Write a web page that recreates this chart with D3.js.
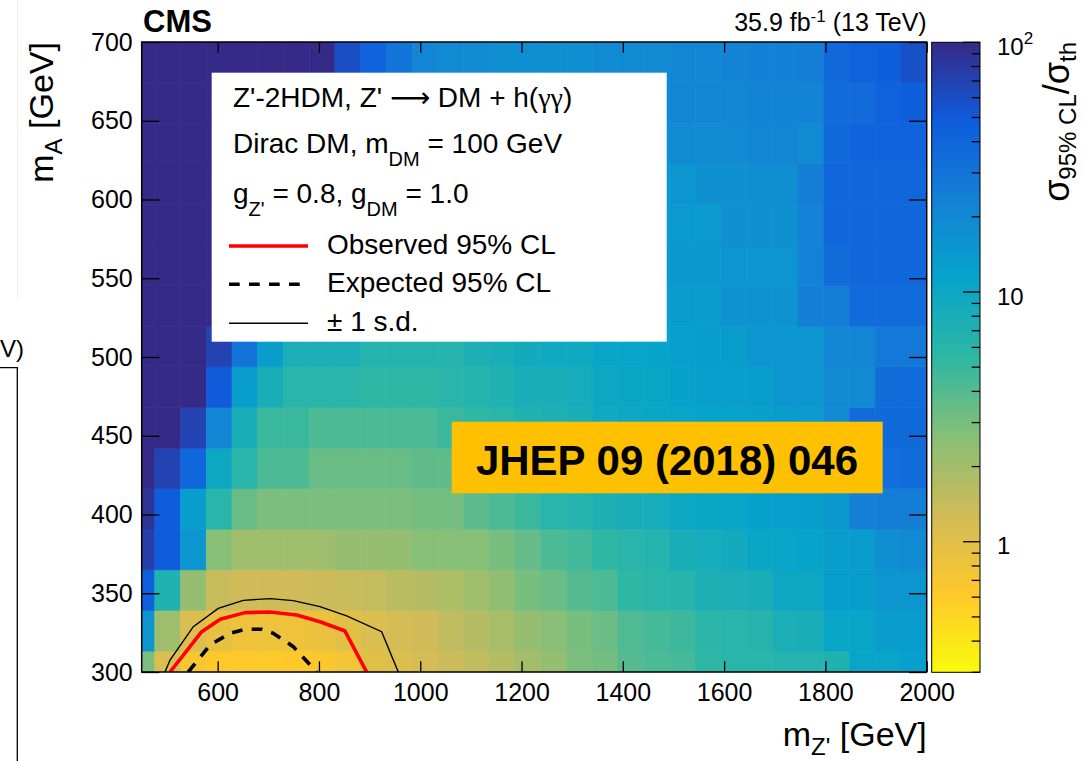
<!DOCTYPE html>
<html>
<head>
<meta charset="utf-8">
<script src="https://cdn.jsdelivr.net/npm/d3@7"></script>
<style>
  body { margin: 0; background: #fff; }
  svg { display: block; }
  text { font-family: "Liberation Sans", Arial, Helvetica, sans-serif; fill: #000; }
</style>
</head>
<body>
<svg id="chart" width="1084" height="761"></svg>
<script>
// ---- data -----------------------------------------------------------------
const mZRange = [450, 2000];            // visible m_Z' window [GeV]
const mARange = [300, 700];             // visible m_A window [GeV]
const mZBinning = [425, 2000, 31];      // low edge, high edge, number of bins
const mABinning = [287.5, 700, 16];
const ratioRange = [0.3, 100];          // colour axis: sigma_95%CL / sigma_th
const mZTicks = [600, 800, 1000, 1200, 1400, 1600, 1800, 2000];
const mATicks = [300, 350, 400, 450, 500, 550, 600, 650, 700];

// sigma_95%CL / sigma_th per (m_A, m_Z') bin; one row per m_A bin, lowest m_A first
const limitRatio = [
  [2.9, 1.1, 0.7, 0.62, 0.6, 0.6, 0.62, 0.65, 0.75, 1.0, 1.1, 1.2, 1.35, 1.5, 1.7, 2.0, 2.3, 2.9, 3.1, 4.0, 4.3, 4.5, 5.5, 6.0, 6.0, 6.5, 6.5, 7.0, 11, 11, 12.5],
  [15.5, 2.1, 1.1, 0.9, 0.8, 0.8, 0.8, 0.85, 0.98, 1.1, 1.2, 1.3, 1.5, 1.7, 1.9, 2.3, 2.6, 3.0, 3.3, 4.2, 4.5, 4.8, 5.8, 6.0, 6.3, 7.8, 8.0, 11, 11, 13.5, 13.5],
  [45, 7, 2.3, 1.4, 1.3, 1.3, 1.3, 1.35, 1.4, 1.45, 1.6, 1.7, 1.8, 2.1, 2.4, 3.0, 3.3, 4.0, 4.3, 5.5, 6.0, 6.2, 7.5, 7.8, 8.0, 10, 10, 13, 13, 15.5, 15.5],
  [75, 48, 15, 2.65, 2.1, 2.1, 2.1, 2.1, 2.3, 2.3, 2.3, 2.65, 2.65, 2.65, 3.0, 3.5, 4.3, 4.6, 5.5, 6.0, 6.5, 8.0, 8.5, 9.0, 10.5, 11, 11.5, 13, 13.5, 18, 19],
  [88, 48, 13, 6, 3.35, 2.9, 2.9, 2.9, 2.9, 2.9, 2.9, 3.06, 3.06, 3.8, 4.3, 5.0, 6.0, 6.5, 7.5, 8.0, 8.5, 10, 10.5, 11, 12, 12.5, 13, 14.5, 24, 25, 25],
  [120, 70, 40, 10, 6, 4.3, 4.3, 3.4, 3.4, 3.4, 3.4, 3.65, 3.65, 4.5, 5, 5.5, 6, 6.5, 7.5, 8, 8.5, 9.5, 10, 10.5, 11, 12, 13, 16, 22, 34, 35],
  [120, 120, 70, 21, 8, 5, 5, 4.3, 4.3, 4.3, 4.3, 4.3, 5, 5.5, 6, 7, 7.5, 8, 9.5, 10, 10.5, 11, 11.5, 11.5, 12, 13.5, 14, 20, 35, 37, 37],
  [120, 120, 120, 50, 13, 8, 6, 6, 6, 5.5, 5.5, 5.5, 6, 6.5, 7, 8, 8, 8.5, 10, 10.5, 10.5, 12, 12.5, 12.5, 13, 15, 15, 20, 20, 35, 36],
  [120, 120, 120, 70, 30, 13, 7.8, 7.8, 7.8, 6.5, 6.5, 6.5, 6.5, 7.5, 8, 9, 9.5, 9.5, 11, 11, 11.5, 12.5, 13, 13, 15, 15, 15, 21, 21, 28, 28],
  [120, 120, 120, 120, 80, 40, 22, 16, 12, 10.5, 10, 10, 10, 10, 10.5, 13, 13.5, 13.5, 13.5, 13.5, 13.5, 13.5, 13.5, 16, 16, 16, 25, 25, 36, 36, 36],
  [120, 120, 120, 120, 100, 60, 40, 28, 20, 16, 14, 13, 12, 12, 12, 12.5, 14, 14, 14, 14, 14, 14.5, 14.5, 15.5, 15.5, 15.5, 23, 35, 40, 40, 40],
  [120, 120, 120, 120, 120, 100, 70, 50, 35, 25, 18, 15, 14, 13.5, 13.5, 13.5, 14, 14, 14, 14, 14, 14, 14, 17, 17, 17, 23, 40, 40, 40, 40],
  [120, 120, 120, 120, 120, 120, 100, 80, 55, 40, 28, 20, 17, 16, 15, 15, 15, 15, 15, 15, 15, 15, 17, 17, 17.5, 18, 25, 40, 40, 40, 40],
  [120, 120, 120, 120, 120, 120, 120, 120, 60, 45, 32, 22, 19, 18, 17, 17, 17, 17, 17, 18, 18, 19, 19, 20, 21, 21, 19, 37, 42, 42, 42],
  [120, 120, 120, 120, 120, 120, 120, 120, 60, 45, 33, 24, 20, 19, 18, 18, 17.5, 17.5, 18, 18, 20, 21, 21, 21, 22, 22, 22, 36, 36, 44, 46],
  [120, 120, 120, 120, 120, 120, 120, 120, 59, 42, 31, 21, 19, 19, 18, 18, 18, 18, 19, 19, 20, 21, 21, 22, 24, 24, 25, 38, 44, 46, 58]
];

// exclusion contours, [m_Z', m_A] in GeV
const observedLimit = [[505.9, 300], [568.5, 325.6], [605.1, 333.5], [654, 337.7], [703.3, 338.1], [756, 336.2], [802, 331.9], [851.4, 326], [894.2, 300]];
const expectedLimit = [[542, 300], [584.8, 317.1], [624.3, 324.6], [654, 327.1], [686.9, 327.1], [709.8, 324.6], [749.3, 316.1], [795.5, 300]];
const expectedPlus1Sigma = [[496, 300], [505.9, 307.6], [551.9, 328.8], [601.2, 340.4], [650.6, 345.5], [703.3, 346.6], [749.3, 345.3], [802, 341.5], [854.7, 335.6], [923.8, 325.6], [956.6, 300]];

// ROOT "bird" palette (stop position, r, g, b)
const birdStops = [0.0, 0.125, 0.25, 0.375, 0.5, 0.625, 0.75, 0.875, 1.0];
const birdRed   = [0.2082, 0.0592, 0.0780, 0.0232, 0.1802, 0.5301, 0.8186, 0.9956, 0.9764];
const birdGreen = [0.1664, 0.3599, 0.5041, 0.6419, 0.7178, 0.7492, 0.7328, 0.7862, 0.9832];
const birdBlue  = [0.5293, 0.8684, 0.8385, 0.7914, 0.6425, 0.4662, 0.3444, 0.1704, 0.0539];

// ---- layout -------------------------------------------------------------------
const svg = d3.select('#chart');
const frame = { left: 141.7, right: 926.7, top: 42, bottom: 672 };
const bar = { left: 931.7, right: 980, top: 42.3, bottom: 672.3 };

const x = d3.scaleLinear().domain(mZRange).range([frame.left, frame.right]);
const y = d3.scaleLinear().domain(mARange).range([frame.bottom, frame.top]);

const birdColors = birdStops.map((s, i) =>
  d3.rgb(birdRed[i] * 255, birdGreen[i] * 255, birdBlue[i] * 255).formatHex());
const bird = d3.scaleLinear().domain(birdStops).range(birdColors).interpolate(d3.interpolateRgb);
// high ratio -> dark end of the palette
const palettePos = d3.scaleLog().domain(ratioRange).range([1, 0]).clamp(true);
const color = v => bird(palettePos(v));

const edges = ([lo, hi, n]) => d3.range(n + 1).map(i => lo + i * (hi - lo) / n);
const mZEdges = edges(mZBinning);
const mAEdges = edges(mABinning);

const defs = svg.append('defs');
defs.append('clipPath').attr('id', 'frameClip').append('rect')
  .attr('x', frame.left).attr('y', frame.top)
  .attr('width', frame.right - frame.left).attr('height', frame.bottom - frame.top);

// ---- heat map cells -------------------------------------------------------------
const cells = limitRatio.flatMap((row, i) => row.map((v, j) => ({ i, j, v })));
const plotG = svg.append('g').attr('clip-path', 'url(#frameClip)');
plotG.selectAll('rect.cell').data(cells).join('rect')
  .attr('class', 'cell')
  .attr('x', d => x(mZEdges[d.j]))
  .attr('width', d => x(mZEdges[d.j + 1]) - x(mZEdges[d.j]))
  .attr('y', d => y(mAEdges[d.i + 1]))
  .attr('height', d => y(mAEdges[d.i]) - y(mAEdges[d.i + 1]))
  .attr('fill', d => color(d.v))
  .attr('stroke', d => color(d.v))
  .attr('stroke-width', 0.6);

// ---- contours -------------------------------------------------------------
const line = d3.line().x(d => x(d[0])).y(d => y(d[1]));
plotG.append('path').datum(expectedPlus1Sigma).attr('d', line)
  .attr('fill', 'none').attr('stroke', '#000').attr('stroke-width', 1.4);
plotG.append('path').datum(expectedLimit).attr('d', line)
  .attr('fill', 'none').attr('stroke', '#000').attr('stroke-width', 3.6)
  .attr('stroke-dasharray', '10.7,9.3');
plotG.append('path').datum(observedLimit).attr('d', line)
  .attr('fill', 'none').attr('stroke', '#ff0000').attr('stroke-width', 3.6)
  .attr('stroke-linejoin', 'round');

// ---- axes -----------------------------------------------------------------
function styleAxis(g, fontSize) {
  g.select('.domain').remove();
  g.selectAll('.tick line').attr('stroke', '#000').attr('stroke-width', 1.3);
  g.selectAll('.tick text').attr('font-size', fontSize)
    .attr('font-family', '"Liberation Sans", Arial, sans-serif').attr('fill', '#000');
}
const plain = d3.format('d');
svg.append('g').attr('transform', `translate(0,${frame.bottom})`)
  .call(d3.axisBottom(x).tickValues(mZTicks).tickFormat(plain)
    .tickSizeInner(-10.7).tickSizeOuter(0).tickPadding(11))
  .call(g => styleAxis(g, 25));
svg.append('g').attr('transform', `translate(0,${frame.top})`)
  .call(d3.axisTop(x).tickValues(mZTicks).tickSizeInner(-10.7).tickSizeOuter(0).tickFormat(''))
  .call(g => styleAxis(g, 25));
svg.append('g').attr('transform', `translate(${frame.left},0)`)
  .call(d3.axisLeft(y).tickValues(mATicks).tickFormat(plain)
    .tickSizeInner(-17.7).tickSizeOuter(0).tickPadding(9))
  .call(g => styleAxis(g, 25));
svg.append('g').attr('transform', `translate(${frame.right},0)`)
  .call(d3.axisRight(y).tickValues(mATicks).tickSizeInner(-17.7).tickSizeOuter(0).tickFormat(''))
  .call(g => styleAxis(g, 25));

svg.append('rect')
  .attr('x', frame.left).attr('y', frame.top)
  .attr('width', frame.right - frame.left).attr('height', frame.bottom - frame.top)
  .attr('fill', 'none').attr('stroke', '#000').attr('stroke-width', 1.5);

// text made of plain / subscript / superscript pieces
function rich(textSel, parts, size, small, drop, rise) {
  let shift = 0;
  parts.forEach(p => {
    const target = p.sub ? drop : p.sup ? -rise : 0;
    const ts = textSel.append('tspan')
      .attr('dy', target - shift)
      .attr('font-size', (p.sub || p.sup) ? small : size)
      .text(p.t);
    if (p.family) ts.attr('font-family', p.family);
    shift = target;
  });
}

// axis titles
rich(svg.append('text').attr('x', frame.right).attr('y', 746).attr('text-anchor', 'end'),
  [{ t: 'm' }, { t: "Z'", sub: true }, { t: ' [GeV]' }], 34, 24, 9, 0);
rich(svg.append('text').attr('transform', `translate(53,${frame.top}) rotate(-90)`).attr('text-anchor', 'end'),
  [{ t: 'm' }, { t: 'A', sub: true }, { t: ' [GeV]' }], 34, 24, 9, 0);

// ---- colour bar -------------------------------------------------------------
const grad = defs.append('linearGradient').attr('id', 'birdGrad')
  .attr('x1', 0).attr('y1', 0).attr('x2', 0).attr('y2', 1);
grad.selectAll('stop').data(birdStops).join('stop')
  .attr('offset', d => d)
  .attr('stop-color', d => bird(d));
svg.append('rect')
  .attr('x', bar.left).attr('y', bar.top)
  .attr('width', bar.right - bar.left).attr('height', bar.bottom - bar.top)
  .attr('fill', 'url(#birdGrad)').attr('stroke', '#000').attr('stroke-width', 1);

const z = d3.scaleLog().domain(ratioRange).range([bar.bottom, bar.top]);
const isDecade = v => Math.abs(Math.log10(v) - Math.round(Math.log10(v))) < 1e-9;
svg.append('g').selectAll('line').data(z.ticks()).join('line')
  .attr('x1', d => bar.right - (isDecade(d) ? 17 : 8.3)).attr('x2', bar.right)
  .attr('y1', d => z(d)).attr('y2', d => z(d))
  .attr('stroke', '#000').attr('stroke-width', 1.3);
z.ticks().filter(isDecade).forEach(v => {
  const t = svg.append('text').attr('x', 997).attr('y', z(v) + 12.5).attr('font-size', 24);
  const e = Math.round(Math.log10(v));
  if (e <= 1) t.text(String(v));
  else rich(t, [{ t: '10' }, { t: String(e), sup: true }], 24, 17, 0, 11);
});
rich(svg.append('text').attr('transform', `translate(1069,${frame.top}) rotate(-90)`).attr('text-anchor', 'end'),
  [{ t: 'σ' }, { t: '95% CL', sub: true }, { t: '/σ' }, { t: 'th', sub: true }], 36, 24, 7, 0);

// ---- header ---------------------------------------------------------------
svg.append('text').attr('x', 143).attr('y', 32).attr('font-size', 31).attr('font-weight', 'bold').text('CMS');
rich(svg.append('text').attr('x', frame.right).attr('y', 31).attr('text-anchor', 'end'),
  [{ t: '35.9 fb' }, { t: '-1', sup: true }, { t: ' (13 TeV)' }], 25, 17, 0, 9);

// ---- legend -------------------------------------------------------------------
const leg = svg.append('g');
leg.append('rect').attr('x', 211.7).attr('y', 72.7).attr('width', 455).attr('height', 269).attr('fill', '#fff');
rich(leg.append('text').attr('x', 233).attr('y', 107),
  [{ t: "Z'-2HDM, Z' " }, { t: '⟶', family: '"DejaVu Sans", sans-serif' }, { t: ' DM + h(' },
   { t: 'γγ', family: '"Liberation Serif", serif' }, { t: ')' }], 28, 20, 13, 0);
rich(leg.append('text').attr('x', 233).attr('y', 153),
  [{ t: 'Dirac DM, m' }, { t: 'DM', sub: true }, { t: ' = 100 GeV' }], 28, 20, 13, 0);
rich(leg.append('text').attr('x', 233).attr('y', 203),
  [{ t: 'g' }, { t: "Z'", sub: true }, { t: ' = 0.8, g' }, { t: 'DM', sub: true }, { t: ' = 1.0' }], 28, 20, 13, 0);

const entries = [
  { label: 'Observed 95% CL', y: 246, color: '#ff0000', width: 3.6, dash: null },
  { label: 'Expected 95% CL', y: 284.3, color: '#000', width: 3.6, dash: '10.7,9.3' },
  { label: '± 1 s.d.', y: 323.3, color: '#000', width: 1.4, dash: null }
];
entries.forEach(e => {
  leg.append('line').attr('x1', 229).attr('x2', 308).attr('y1', e.y).attr('y2', e.y)
    .attr('stroke', e.color).attr('stroke-width', e.width)
    .attr('stroke-dasharray', e.dash);
  leg.append('text').attr('x', 327).attr('y', e.y + 7.5).attr('font-size', 28).text(e.label);
});

// ---- journal reference banner ----------------------------------------------------
svg.append('rect').attr('x', 451.7).attr('y', 421.7).attr('width', 431).attr('height', 71.6).attr('fill', '#ffc000');
svg.append('text').attr('x', 667).attr('y', 475).attr('text-anchor', 'middle')
  .attr('font-size', 42).attr('font-weight', 'bold').text('JHEP 09 (2018) 046');

// ---- edge of the neighbouring panel ---------------------------------------------
svg.append('line').attr('x1', 17.5).attr('x2', 17.5).attr('y1', 0).attr('y2', 300)
  .attr('stroke', '#f0f0f0').attr('stroke-width', 1);
svg.append('path').attr('d', 'M0,367.7 H17.3 V761').attr('fill', 'none')
  .attr('stroke', '#000').attr('stroke-width', 1.3);
svg.append('text').attr('x', 0).attr('y', 357).attr('font-size', 24).text('V)');
</script>
</body>
</html>
